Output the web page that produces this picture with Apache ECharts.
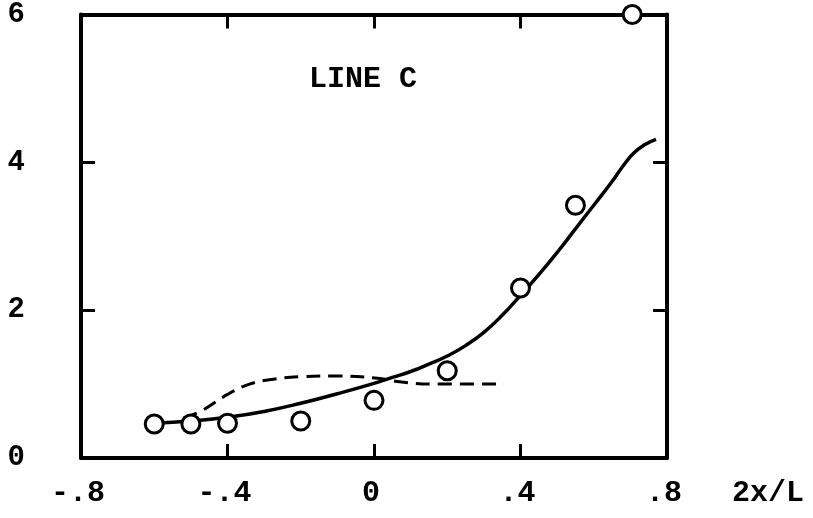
<!DOCTYPE html>
<html>
<head>
<meta charset="utf-8">
<script src="https://cdn.jsdelivr.net/npm/echarts@6/dist/echarts.min.js"></script>
<style>
html,body{margin:0;padding:0;background:#fff;}
#c{width:813px;height:518px;}
</style>
</head>
<body>
<div id="c"></div>
<script>
// ---- data ----
const xTickValues = [-0.8, -0.4, 0, 0.4, 0.8];
const xTickLabels = ['-.8', '-.4', '0', '.4', '.8'];
const yTickValues = [0, 2, 4, 6];
const yTickLabels = ['0', '2', '4', '6'];

const pointsX = [-0.60, -0.50, -0.40, -0.20, 0.00, 0.20, 0.40, 0.55, 0.705];
const pointsY = [0.46, 0.46, 0.47, 0.50, 0.78, 1.18, 2.30, 3.42, 6.00];

const solidX = [-0.60, -0.50, -0.40, -0.30, -0.20, -0.10, 0.00, 0.05, 0.10, 0.15, 0.20, 0.25, 0.30, 0.35, 0.40, 0.45, 0.50, 0.55, 0.60, 0.65, 0.68, 0.71, 0.74, 0.77];
const solidY = [0.47, 0.50, 0.55, 0.63, 0.74, 0.87, 1.01, 1.09, 1.17, 1.27, 1.38, 1.52, 1.70, 1.93, 2.20, 2.48, 2.78, 3.10, 3.42, 3.74, 3.95, 4.13, 4.24, 4.31];

const dashX = [-0.52, -0.47, -0.40, -0.34, -0.27, -0.20, -0.11, 0.01, 0.07, 0.16, 0.355];
const dashY = [0.54, 0.64, 0.86, 1.00, 1.07, 1.10, 1.11, 1.08, 1.03, 1.00, 1.00];

const panelLabel = 'LINE C';
const xName = '2x/L';

// ---- chart ----
const zip = (a, b) => a.map((v, i) => [v, b[i]]);
const FONT = '"Liberation Mono", "DejaVu Sans Mono", monospace';

function xFmt(v) {
  const i = xTickValues.findIndex(t => Math.abs(t - v) < 1e-6);
  return i >= 0 ? xTickLabels[i] : '';
}
function yFmt(v) {
  const i = yTickValues.findIndex(t => Math.abs(t - v) < 1e-6);
  return i >= 0 ? yTickLabels[i] : '';
}

const lineStyleAxis = { color: '#000', width: 4 };
const tickStyle = { show: true, inside: true, length: 14, lineStyle: { color: '#000', width: 3 } };

const chart = echarts.init(document.getElementById('c'), null, { renderer: 'canvas' });
chart.setOption({
  backgroundColor: '#fff',
  animation: false,
  grid: { left: 81, right: 146, top: 13, bottom: 60 },
  graphic: [{
    type: 'text',
    left: 309,
    top: 64,
    style: { text: panelLabel, font: 'bold 30px ' + FONT, fill: '#000' }
  }],
  xAxis: [{
    type: 'value', min: -0.8, max: 0.8, interval: 0.4, position: 'bottom',
    axisLine: { show: true, onZero: false, lineStyle: lineStyleAxis },
    axisTick: tickStyle,
    splitLine: { show: false },
    axisLabel: { formatter: xFmt, margin: 20, color: '#000', fontFamily: FONT, fontWeight: 'bold', fontSize: 30, padding: [0, 6, 0, 0] },
    name: xName, nameLocation: 'end', nameGap: 65,
    nameTextStyle: { color: '#000', fontFamily: FONT, fontWeight: 'bold', fontSize: 30, verticalAlign: 'top', padding: [20, 0, 0, 0] }
  }, {
    type: 'value', min: -0.8, max: 0.8, interval: 0.4, position: 'top',
    axisLine: { show: true, onZero: false, lineStyle: lineStyleAxis },
    axisTick: tickStyle,
    splitLine: { show: false },
    axisLabel: { show: false }
  }],
  yAxis: [{
    type: 'value', min: 0, max: 6, interval: 2, position: 'left',
    axisLine: { show: true, onZero: false, lineStyle: lineStyleAxis },
    axisTick: tickStyle,
    splitLine: { show: false },
    axisLabel: { formatter: yFmt, margin: 56, color: '#000', fontFamily: FONT, fontWeight: 'bold', fontSize: 29 }
  }, {
    type: 'value', min: 0, max: 6, interval: 2, position: 'right',
    axisLine: { show: true, onZero: false, lineStyle: lineStyleAxis },
    axisTick: tickStyle,
    splitLine: { show: false },
    axisLabel: { show: false }
  }],
  series: [{
    type: 'line', xAxisIndex: 0, yAxisIndex: 0,
    data: zip(solidX, solidY),
    smooth: 0.5, showSymbol: false, symbol: 'none',
    lineStyle: { color: '#000', width: 3.5 },
    z: 2
  }, {
    type: 'line', xAxisIndex: 0, yAxisIndex: 0,
    data: zip(dashX, dashY),
    smooth: 0.4, showSymbol: false, symbol: 'none',
    lineStyle: { color: '#000', width: 3, type: [14, 8] },
    z: 2
  }, {
    type: 'scatter', xAxisIndex: 0, yAxisIndex: 0,
    data: zip(pointsX, pointsY),
    symbol: 'circle', symbolSize: 18, clip: false,
    itemStyle: { color: '#fff', borderColor: '#000', borderWidth: 3, opacity: 1 },
    z: 5
  }]
});
</script>
</body>
</html>
